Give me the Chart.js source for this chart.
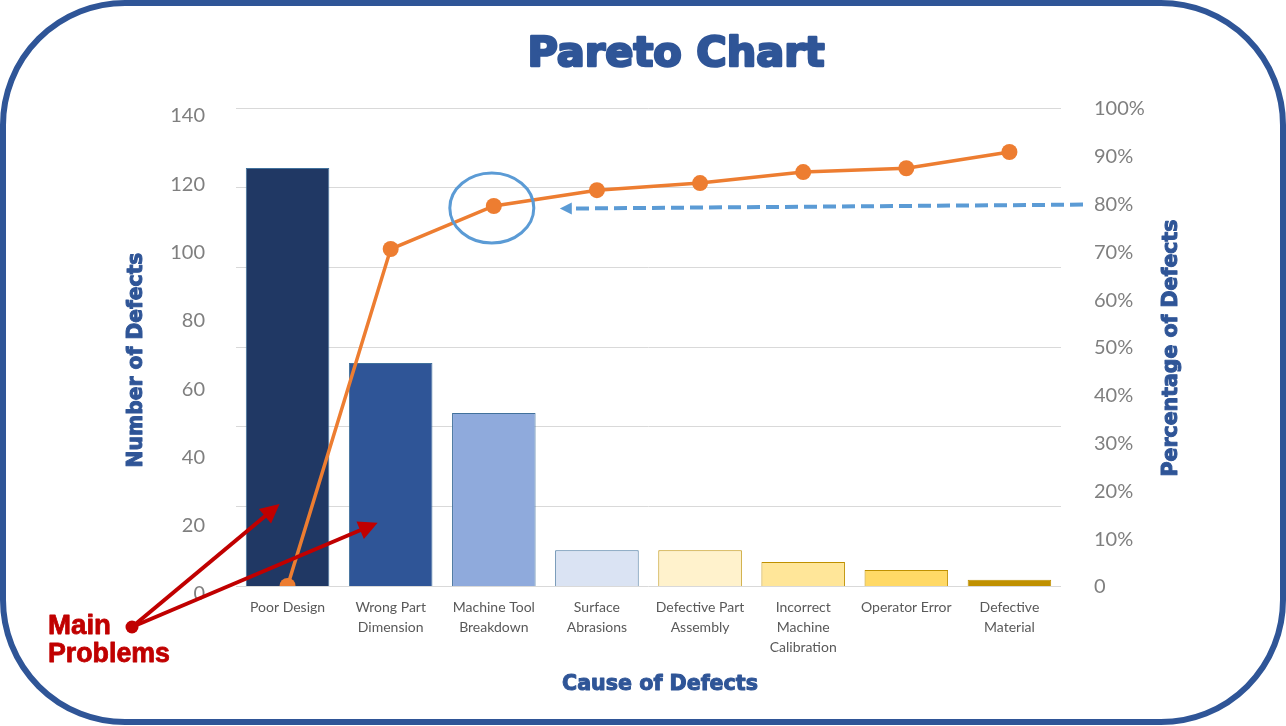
<!DOCTYPE html>
<html lang="en">
<head>
    <meta charset="UTF-8">
    <script src="https://cdn.jsdelivr.net/npm/chart.js@4.4.1/dist/chart.umd.min.js"></script>
    <title>Pareto Chart</title>
    <style>
        body { margin: 0; background: #fff; }
    </style>
</head>
<body>
    <canvas id="chart" width="1286" height="726"></canvas>
    <script>
        const categories = [
            ['Poor Design'],
            ['Wrong Part', 'Dimension'],
            ['Machine Tool', 'Breakdown'],
            ['Surface', 'Abrasions'],
            ['Defective Part', 'Assembly'],
            ['Incorrect', 'Machine', 'Calibration'],
            ['Operator Error'],
            ['Defective', 'Material']
        ];
        const defects = [122.4, 65.3, 50.7, 10.5, 10.5, 7, 4.7, 1.8];
        const cumulativePct = [0, 70.5, 79.5, 82.8, 84.3, 86.6, 87.4, 90.8];
        const countTicks = [0, 20, 40, 60, 80, 100, 120, 140];
        const pctTicks = [0, 10, 20, 30, 40, 50, 60, 70, 80, 90, 100];

        const barFill = ['#203864', '#2F5597', '#8FAADC', '#DAE3F3', '#FFF2CC', '#FFE699', '#FFD966', '#BF9000'];
        const barEdge = ['#41719C', '#41719C', '#41719C', '#41719C', '#BF9000', '#BF9000', '#BF9000', '#BF9000'];
        const blue = '#2F5597';

        // draw text squeezed/stretched to a given width
        function fitText(ctx, text, x, y, width, font, color, align, stroke) {
            ctx.save();
            ctx.font = 'bold 100px ' + font;
            const size = 100 * width / ctx.measureText(text).width;
            ctx.font = 'bold ' + size + 'px ' + font;
            ctx.fillStyle = color;
            ctx.textAlign = align || 'center';
            ctx.textBaseline = 'middle';
            ctx.fillText(text, x, y);
            if (stroke) {
                ctx.strokeStyle = color;
                ctx.lineWidth = stroke;
                ctx.lineJoin = 'round';
                ctx.strokeText(text, x, y);
            }
            ctx.restore();
        }

        function arrow(ctx, x1, y1, x2, y2, color, width, dash, head) {
            const a = Math.atan2(y2 - y1, x2 - x1);
            ctx.save();
            ctx.strokeStyle = color;
            ctx.fillStyle = color;
            ctx.lineWidth = width;
            ctx.setLineDash(dash || []);
            ctx.beginPath();
            ctx.moveTo(x1, y1);
            ctx.lineTo(x2 - Math.cos(a) * head * 0.8, y2 - Math.sin(a) * head * 0.8);
            ctx.stroke();
            ctx.setLineDash([]);
            ctx.beginPath();
            ctx.moveTo(x2, y2);
            ctx.lineTo(x2 - head * Math.cos(a) + head * 0.5 * Math.sin(a), y2 - head * Math.sin(a) - head * 0.5 * Math.cos(a));
            ctx.lineTo(x2 - head * Math.cos(a) - head * 0.5 * Math.sin(a), y2 - head * Math.sin(a) + head * 0.5 * Math.cos(a));
            ctx.closePath();
            ctx.fill();
            ctx.restore();
        }

        const decorations = {
            id: 'decorations',
            beforeDraw(chart) {
                const ctx = chart.ctx;
                ctx.save();
                ctx.strokeStyle = blue;
                ctx.lineWidth = 6;
                ctx.beginPath();
                ctx.roundRect(3, 3, 1280, 719, 122);
                ctx.stroke();
                ctx.restore();
            },
            afterDatasetsDraw(chart) {
                const ctx = chart.ctx;
                const x = chart.scales.x, y = chart.scales.y, y2 = chart.scales.y2;
                const area = chart.chartArea;

                // circle round the 80% point
                const pt = chart.getDatasetMeta(1).data[2];
                ctx.save();
                ctx.strokeStyle = '#5B9BD5';
                ctx.lineWidth = 3;
                ctx.beginPath();
                ctx.ellipse(pt.x - 2, pt.y + 2, 42, 35, 0, 0, Math.PI * 2);
                ctx.stroke();
                ctx.restore();

                // dashed 80% arrow
                arrow(ctx, area.right + 22, y2.getPixelForValue(80) + 1, x.getPixelForValue(2) + 66, y2.getPixelForValue(80) + 5,
                    '#5B9BD5', 4, [13, 6], 12);

                // main problems arrows
                const ox = 132, oy = 627;
                arrow(ctx, ox, oy, x.getPixelForValue(0) - 8, y.getPixelForValue(24), '#C00000', 4, null, 19);
                arrow(ctx, ox, oy, x.getPixelForValue(1) - 13, y.getPixelForValue(18.5), '#C00000', 4, null, 19);
                ctx.save();
                ctx.fillStyle = '#C00000';
                ctx.beginPath();
                ctx.arc(ox, oy, 6.5, 0, Math.PI * 2);
                ctx.fill();
                ctx.restore();
            },
            afterDraw(chart) {
                const ctx = chart.ctx;
                fitText(ctx, 'Pareto Chart', 676, 55, 297, '"DejaVu Sans"', blue, 'center', 2.5);
                fitText(ctx, 'Cause of Defects', 660, 685, 196, '"DejaVu Sans"', blue, 'center', 1);
                fitText(ctx, 'Main', 48, 626, 63, '"Liberation Sans"', '#C00000', 'left', 0.8);
                fitText(ctx, 'Problems', 48, 655, 122, '"Liberation Sans"', '#C00000', 'left', 0.8);

                ctx.save();
                ctx.translate(137, 360);
                ctx.rotate(-Math.PI / 2);
                fitText(ctx, 'Number of Defects', 0, 0, 215, '"DejaVu Sans"', blue, 'center', 1);
                ctx.restore();

                ctx.save();
                ctx.translate(1172, 348);
                ctx.rotate(-Math.PI / 2);
                fitText(ctx, 'Percentage of Defects', 0, 0, 257, '"DejaVu Sans"', blue, 'center', 1);
                ctx.restore();
            }
        };

        createChart();

        function createChart() {
            const ctx = document.getElementById('chart');
            new Chart(ctx, {
                type: 'bar',
                data: {
                    labels: categories,
                    datasets: [{
                        type: 'bar',
                        label: 'Number of Defects',
                        data: defects,
                        backgroundColor: barFill,
                        borderColor: barEdge,
                        borderWidth: 1,
                        barPercentage: 0.81,
                        categoryPercentage: 1,
                        yAxisID: 'y',
                        order: 2
                    }, {
                        type: 'line',
                        label: 'Cumulative %',
                        data: cumulativePct,
                        borderColor: '#ED7D31',
                        backgroundColor: '#ED7D31',
                        borderWidth: 3.5,
                        pointRadius: 8,
                        pointBorderWidth: 0,
                        tension: 0,
                        yAxisID: 'y2',
                        order: 1
                    }]
                },
                options: {
                    responsive: false,
                    animation: false,
                    layout: { padding: { top: 108, left: 0, right: 0, bottom: 0 } },
                    plugins: {
                        legend: { display: false },
                        tooltip: { enabled: false }
                    },
                    scales: {
                        x: {
                            grid: { display: false },
                            border: { display: false },
                            ticks: {
                                color: '#595959',
                                font: { family: 'Lato', size: 14, lineHeight: 1.4 },
                                padding: 4,
                                maxRotation: 0,
                                autoSkip: false
                            },
                            afterFit: s => { s.height = 140; }
                        },
                        grid6: {
                            position: 'left',
                            min: 0,
                            max: 6,
                            ticks: { display: false, stepSize: 1 },
                            grid: { color: '#D9D9D9', drawTicks: false },
                            border: { display: false },
                            afterFit: s => { s.width = 0; }
                        },
                        y: {
                            position: 'left',
                            min: countTicks[0],
                            max: countTicks[countTicks.length - 1],
                            grid: { display: false },
                            border: { display: false },
                            afterBuildTicks: s => { s.ticks = countTicks.map(v => ({ value: v })); },
                            ticks: {
                                color: '#7F7F7F',
                                font: { family: 'Lato', size: 20 },
                                padding: 23,
                                labelOffset: 8
                            },
                            afterFit: s => { s.width = 236; }
                        },
                        y2: {
                            position: 'right',
                            min: pctTicks[0],
                            max: pctTicks[pctTicks.length - 1],
                            grid: { display: false },
                            border: { display: false },
                            afterBuildTicks: s => { s.ticks = pctTicks.map(v => ({ value: v })); },
                            ticks: {
                                color: '#7F7F7F',
                                font: { family: 'Lato', size: 20 },
                                padding: 25,
                                labelOffset: 1,
                                callback: v => v === 0 ? '0' : v + '%'
                            },
                            afterFit: s => { s.width = 225; }
                        }
                    }
                },
                plugins: [decorations]
            });
        }
    </script>
</body>
</html>
